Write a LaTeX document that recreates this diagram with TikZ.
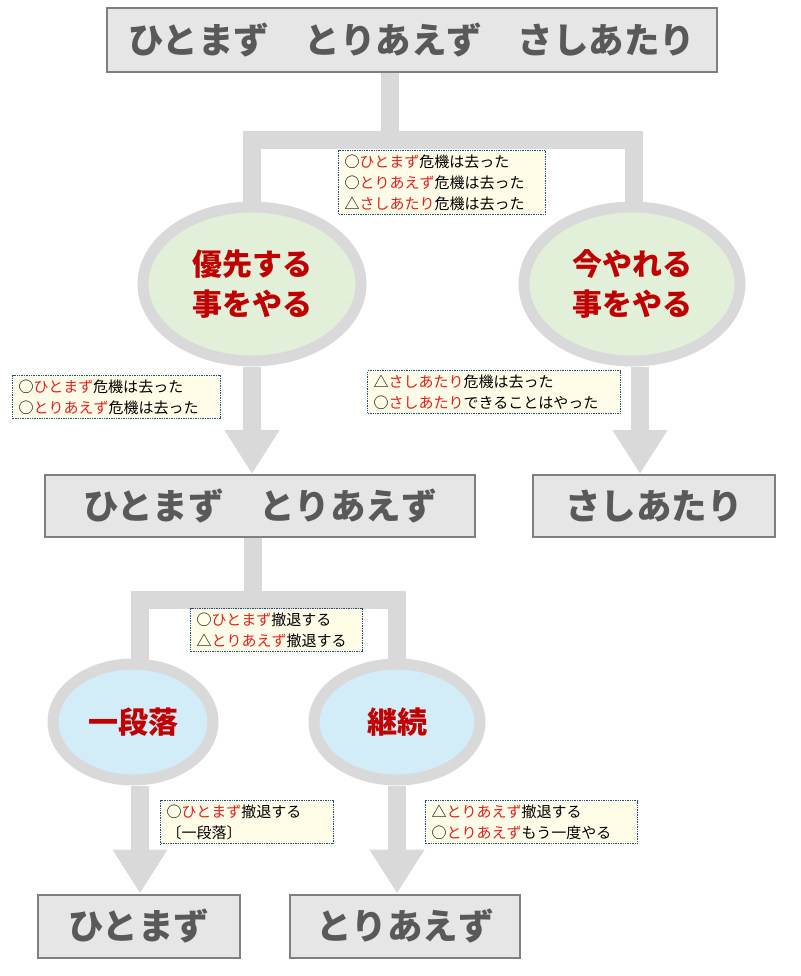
\documentclass[tikz,border=0pt]{standalone}
\usepackage{fontspec}
\setmainfont{Noto Sans CJK JP}
\usetikzlibrary{arrows.meta,shapes.geometric}
\definecolor{boxfill}{HTML}{E6E6E6}
\definecolor{boxline}{HTML}{7F7F7F}
\definecolor{boxtext}{HTML}{595959}
\definecolor{conn}{HTML}{D9D9D9}
\definecolor{green1}{HTML}{E2F0D9}
\definecolor{blue1}{HTML}{D2ECF8}
\definecolor{redt}{HTML}{C00000}
\definecolor{notef}{HTML}{FFFDE7}
\definecolor{noteb}{HTML}{1F4E79}
\definecolor{notered}{HTML}{E02020}
\newcommand{\rd}[1]{\textcolor{notered}{#1}}
\begin{document}
\begin{tikzpicture}[x=1pt,y=-1pt,
  bigbox/.style={draw=boxline,line width=2pt,fill=boxfill,text=boxtext,font=\fontsize{35.5}{40}\selectfont\bfseries,inner sep=0pt},
  oval/.style={ellipse,draw=conn,line width=11pt,text=redt,font=\fontsize{30}{40}\selectfont\bfseries,align=center,inner sep=0pt},
  notebox/.style={draw=noteb,densely dotted,line width=1.4pt,fill=notef,font=\fontsize{15}{21}\selectfont,align=left,anchor=north west,inner xsep=6pt,inner ysep=4pt,text width=#1},
  conline/.style={draw=conn,line width=18pt},
  bigarrow/.style={draw=conn,line width=18pt,-{Triangle[width=52pt,length=44pt]},color=conn}
]
\path[use as bounding box] (0,0) rectangle (800,976);
% boxes
\node[bigbox,minimum width=610pt,minimum height=64pt] (top) at (412,40) {ひとまず　とりあえず　さしあたり};
\node[bigbox,minimum width=430pt,minimum height=62pt] (b2) at (260,506) {ひとまず　とりあえず};
\node[bigbox,minimum width=242pt,minimum height=62pt] (b3) at (654,506) {さしあたり};
\node[bigbox,minimum width=202pt,minimum height=63pt] (b4) at (139,926) {ひとまず};
\node[bigbox,minimum width=230pt,minimum height=63pt] (b5) at (405,926) {とりあえず};
% branch coordinates
\coordinate (s1) at (390,73);
\coordinate (j1) at (390,140);
\coordinate (l1) at (252,140);
\coordinate (r1) at (634,140);
\coordinate (s2) at (253,538);
\coordinate (j2) at (253,600);
\coordinate (l2) at (140,600);
\coordinate (r2) at (397,600);
% connectors
\draw[conline] (s1) -- (j1);
\draw[conline] (l1|-0,222) -- (l1) -- (r1) -- (r1|-0,222);
\draw[conline] (s2) -- (j2);
\draw[conline] (l2|-0,680) -- (l2) -- (r2) -- (r2|-0,680);
% ovals
\node[oval,fill=green1,minimum width=218pt,minimum height=154pt] (e1) at (252,284) {優先する\\事をやる};
\node[oval,fill=green1,minimum width=216pt,minimum height=154pt] (e2) at (632,284) {今やれる\\事をやる};
\node[oval,fill=blue1,minimum width=160pt,minimum height=116pt] (e3) at (133,722) {一段落};
\node[oval,fill=blue1,minimum width=166pt,minimum height=116pt] (e4) at (397,722) {継続};
% arrows
\draw[bigarrow] (e1.south) -- (e1.south|-b2.north);
\draw[bigarrow] ([xshift=8pt]e2.south) -- ([xshift=8pt]e2.south|-b3.north);
\draw[bigarrow] ([xshift=7pt]e3.south) -- ([xshift=7pt]e3.south|-b4.north);
\draw[bigarrow] (e4.south) -- (e4.south|-b5.north);
% notes
\node[notebox=195pt] (n1) at (338,150) {○\rd{ひとまず}危機は去った\\○\rd{とりあえず}危機は去った\\△\rd{さしあたり}危機は去った};
\node[notebox=196pt] (n2) at (12,375) {○\rd{ひとまず}危機は去った\\○\rd{とりあえず}危機は去った};
\node[notebox=241pt] (n3) at (367,370) {△\rd{さしあたり}危機は去った\\○\rd{さしあたり}できることはやった};
\node[notebox=160pt] (n4) at (190,608) {○\rd{ひとまず}撤退する\\△\rd{とりあえず}撤退する};
\node[notebox=161pt] (n5) at (160,800) {○\rd{ひとまず}撤退する\\〔一段落〕};
\node[notebox=200pt] (n6) at (425,800) {△\rd{とりあえず}撤退する\\○\rd{とりあえず}もう一度やる};
\end{tikzpicture}
\end{document}
